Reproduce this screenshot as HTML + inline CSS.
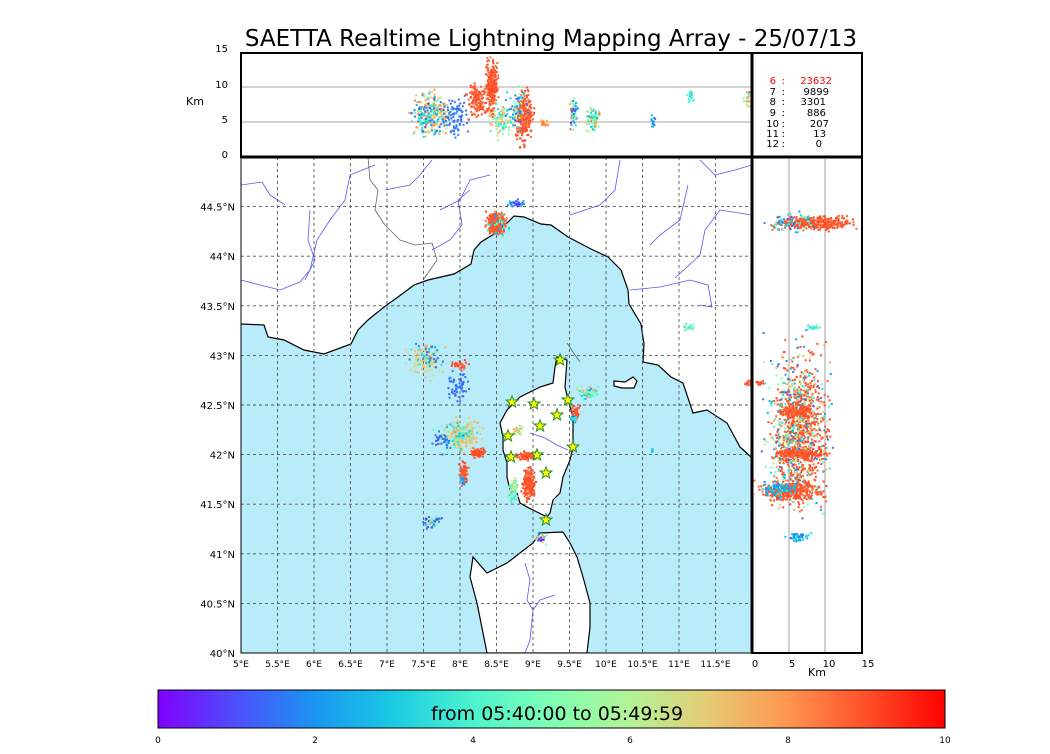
<!DOCTYPE html>
<html><head><meta charset="utf-8"><style>
body{margin:0;background:#fff;width:1050px;height:750px;overflow:hidden;font-family:"DejaVu Sans",sans-serif}
</style></head><body>
<svg id="s" width="1050" height="750" xmlns="http://www.w3.org/2000/svg" font-family="DejaVu Sans, sans-serif">
<defs>
<linearGradient id="cb" x1="0" x2="1" y1="0" y2="0">
<stop offset="0" stop-color="#8000ff"/><stop offset="0.1" stop-color="#4d4ffc"/><stop offset="0.2" stop-color="#1a96f2"/><stop offset="0.3" stop-color="#1acbe3"/><stop offset="0.4" stop-color="#4df3ce"/><stop offset="0.5" stop-color="#80ffb4"/><stop offset="0.6" stop-color="#b3f396"/><stop offset="0.7" stop-color="#e6cb74"/><stop offset="0.8" stop-color="#ff964f"/><stop offset="0.9" stop-color="#ff4f28"/><stop offset="1" stop-color="#ff0000"/>
</linearGradient>
<clipPath id="cm"><rect x="241" y="157" width="511" height="496"/></clipPath>
<clipPath id="ct"><rect x="241" y="53" width="511" height="104"/></clipPath>
<clipPath id="cr"><rect x="752" y="157" width="110" height="496"/></clipPath>
</defs>
<text x="551" y="46" font-size="23" text-anchor="middle">SAETTA Realtime Lightning Mapping Array - 25/07/13</text>
<g clip-path="url(#cm)">
<polygon fill="#b8ecfa" points="241,324 264,325 268,337 284,340 304,350 324,354 351,344 358,330 368,320 384,307 398,297 414,285 428,280 454,274 471,264 474,250 481,242 494,234 508,222 514,216 524,217 541,224 551,225 568,237 591,249 608,257 621,270 628,290 629,304 641,324 644,344 643,362 658,365 671,377 683,383 693,413 707,410 727,423 740,447 752,458 752,653 241,653"/>
<polyline fill="none" stroke="#000" stroke-width="1.2" points="241,324 264,325 268,337 284,340 304,350 324,354 351,344 358,330 368,320 384,307 398,297 414,285 428,280 454,274 471,264 474,250 481,242 494,234 508,222 514,216 524,217 541,224 551,225 568,237 591,249 608,257 621,270 628,290 629,304 641,324 644,344 643,362 658,365 671,377 683,383 693,413 707,410 727,423 740,447 752,458"/>
<polygon fill="#fff" stroke="#000" stroke-width="1.2" points="557,357 567,360 565,387 568,400 573,417 573,447 570,460 563,477 560,493 553,500 550,513 547,517 533,510 527,507 520,503 517,493 510,490 507,477 507,463 503,450 503,437 500,423 507,410 520,397 540,387 553,383 555,367"/>
<polygon fill="#fff" stroke="#000" stroke-width="1.2" points="540,533 563,532 570,543 577,557 583,577 590,603 590,627 587,653 487,653 483,633 477,603 470,577 473,557 487,573 507,563 520,553 533,543"/>
<polygon fill="#fff" stroke="#000" stroke-width="1.2" points="614,381 625,382 633,377 637,381 634,388 622,388 614,386"/>
<g fill="none" stroke="#5555ff" stroke-width="0.8">
<polyline points="241,185 262,182 270,195 285,205"/>
<polyline points="241,280 260,285 280,290 300,282 310,270 317,240 330,220 345,200 350,175 375,165"/>
<polyline points="310,210 308,240 315,260 305,280"/>
<polyline points="385,190 410,185 420,175 432,160"/>
<polyline points="440,210 460,200 470,180 490,175"/>
<polyline points="432,250 450,240 462,225 458,200 470,190"/>
<polyline points="570,215 600,205 615,190 620,160"/>
<polyline points="650,245 660,235 680,220 688,185"/>
<polyline points="700,160 715,175 735,170 752,165"/>
<polyline points="675,278 700,255 705,230 720,210 752,215"/>
<polyline points="630,290 660,287 690,280 708,285 712,307 700,305"/>
<polyline points="530,433 545,438 557,445 568,450"/>
<polyline points="525,563 530,580 527,600 533,610 540,600 555,595"/>
<polyline points="533,610 530,640 525,653"/>
</g>
<g fill="none" stroke="#666" stroke-width="0.8">
<polyline points="368,157 370,180 378,190 375,210 385,225 400,240 415,245 432,243 437,260 430,270 423,280"/>
<polyline points="567,343 575,355 580,362"/>
</g>
<g stroke="#555" stroke-width="0.9" stroke-dasharray="3,3" id="grid"></g>
</g>
<g id="dm" clip-path="url(#cm)"></g>
<rect x="241" y="157" width="511" height="496" fill="none" stroke="#000" stroke-width="1"/>
<line x1="241" x2="752" y1="122" y2="122" stroke="#888" stroke-width="0.8"/>
<line x1="241" x2="752" y1="87" y2="87" stroke="#888" stroke-width="0.8"/>
<g id="dt" clip-path="url(#ct)"></g>
<rect x="241" y="53" width="621" height="104" fill="none" stroke="#000" stroke-width="2"/>
<line x1="752" x2="752" y1="53" y2="653" stroke="#000" stroke-width="3"/>
<line x1="241" x2="862" y1="157" y2="157" stroke="#000" stroke-width="3"/>
<line x1="789" x2="789" y1="157" y2="653" stroke="#888" stroke-width="0.8"/>
<line x1="825" x2="825" y1="157" y2="653" stroke="#888" stroke-width="0.8"/>
<g id="dr" clip-path="url(#cr)"></g>
<rect x="752" y="157" width="110" height="496" fill="none" stroke="#000" stroke-width="2"/>
<g id="stars"></g>
<g font-size="10" text-anchor="end">
<text x="776" y="84" fill="#ff0000">6</text><text x="785" y="84" fill="#ff0000">:</text><text x="832" y="84" fill="#ff0000">23632</text>
<text x="776" y="95">7</text><text x="785" y="95">:</text><text x="829" y="95">9899</text>
<text x="776" y="105">8</text><text x="785" y="105">:</text><text x="826" y="105">3301</text>
<text x="776" y="116">9</text><text x="785" y="116">:</text><text x="826" y="116">886</text>
<text x="779" y="127">10</text><text x="785" y="127">:</text><text x="829" y="127">207</text>
<text x="779" y="137">11</text><text x="785" y="137">:</text><text x="826" y="137">13</text>
<text x="779" y="147">12</text><text x="785" y="147">:</text><text x="822" y="147">0</text>
</g>
<g font-size="10" id="labels"></g>
<text x="195" y="105" font-size="11" text-anchor="middle">Km</text>
<text x="817" y="676" font-size="11" text-anchor="middle">Km</text>
<rect x="158" y="690" width="787" height="38" fill="url(#cb)" stroke="#000" stroke-width="1"/>
<text x="557" y="720" font-size="19" text-anchor="middle">from 05:40:00 to 05:49:59</text>
<g font-size="9" text-anchor="middle">
<text x="158" y="743">0</text><text x="315" y="743">2</text><text x="473" y="743">4</text><text x="630" y="743">6</text><text x="788" y="743">8</text><text x="945" y="743">10</text>
</g>
</svg>
<script>
var NS="http://www.w3.org/2000/svg";
function el(p,t,a,txt){var e=document.createElementNS(NS,t);for(var k in a)e.setAttribute(k,a[k]);if(txt!=null)e.textContent=txt;p.appendChild(e);return e;}
var g=document.getElementById('grid');
for(var i=1;i<14;i++){var x=241+i*36.5;el(g,'line',{x1:x,x2:x,y1:157,y2:653});}
for(var j=1;j<10;j++){var y=653-j*49.6;el(g,'line',{x1:241,x2:752,y1:y,y2:y});}
var L=document.getElementById('labels');
var lats=['40°N','40.5°N','41°N','41.5°N','42°N','42.5°N','43°N','43.5°N','44°N','44.5°N'];
for(var j=0;j<10;j++)el(L,'text',{x:235,y:657-j*49.6,'text-anchor':'end'},lats[j]);
var lons=['5°E','5.5°E','6°E','6.5°E','7°E','7.5°E','8°E','8.5°E','9°E','9.5°E','10°E','10.5°E','11°E','11.5°E'];
for(var i=0;i<14;i++)el(L,'text',{x:241+i*36.5,y:667,'text-anchor':'middle','font-size':9},lons[i]);
[['0',755],['5',792],['10',829],['15',868]].forEach(function(a){el(L,'text',{x:a[1],y:667,'text-anchor':'middle','font-size':10},a[0]);});
[['15',52],['10',88],['5',123],['0',158]].forEach(function(a){el(L,'text',{x:228,y:a[1],'text-anchor':'end'},a[0]);});
var seed=7;function r(){seed=(seed*16807)%2147483647;return seed/2147483647;}
function gs(){return (r()+r()+r()-1.5)/1.5;}
function col(t){var R=Math.min(1,Math.abs(2*t-0.5)),G=Math.sin(Math.PI*t),B=Math.cos(Math.PI*t/2);return 'rgb('+Math.round(R*255)+','+Math.round(G*255)+','+Math.round(B*255)+')';}
function cl(id,cx,cy,rx,ry,n,tmin,tmax){var p=document.getElementById(id);var s='';
for(var k=0;k<n;k++){var x=cx+gs()*rx*1.2,y=cy+gs()*ry*1.2;var t=tmin+r()*(tmax-tmin);
s+='<rect x="'+x.toFixed(1)+'" y="'+y.toFixed(1)+'" width="2" height="2" fill="'+col(t)+'"/>';}
p.insertAdjacentHTML('beforeend',s);}
cl('dm',495,222,10,11,300,0.86,0.92);cl('dm',498,225,14,14,30,0.2,0.5);cl('dm',515,202,10,4,30,0.0,0.3);
cl('dm',425,360,20,18,100,0.6,0.8);cl('dm',425,355,18,15,40,0.1,0.4);cl('dm',458,385,12,20,60,0.12,0.16);cl('dm',458,365,10,6,30,0.85,0.95);
cl('dm',460,435,22,18,160,0.6,0.8);cl('dm',455,435,22,18,70,0.25,0.5);cl('dm',440,440,14,14,30,0.12,0.16);
cl('dm',477,452,8,6,80,0.88,0.92);cl('dm',463,472,5,12,80,0.86,0.92);cl('dm',462,480,4,6,20,0.1,0.3);
cl('dm',525,455,10,5,90,0.86,0.92);cl('dm',528,483,7,17,220,0.86,0.92);cl('dm',512,488,6,14,70,0.3,0.7);cl('dm',517,430,5,6,30,0.5,0.8);
cl('dm',587,392,12,8,60,0.2,0.8);cl('dm',575,412,4,8,40,0.86,0.92);cl('dm',573,418,4,6,20,0.2,0.4);
cl('dm',433,521,12,8,50,0.0,0.8);cl('dm',540,538,6,7,30,0.0,0.9);
cl('dm',688,326,6,4,20,0.3,0.5);cl('dm',747,382,5,4,15,0.86,0.92);cl('dm',651,450,2,2,4,0.2,0.3);
cl('dt',432,112,22,25,200,0.6,0.85);cl('dt',430,115,24,22,120,0.1,0.45);cl('dt',455,115,14,22,80,0.12,0.18);
cl('dt',476,98,10,18,130,0.86,0.92);cl('dt',491,85,7,30,250,0.86,0.92);cl('dt',500,120,15,18,90,0.3,0.8);
cl('dt',523,115,10,30,250,0.86,0.92);cl('dt',515,110,12,25,70,0.1,0.6);cl('dt',544,122,5,4,20,0.7,0.9);
cl('dt',573,113,4,18,60,0.0,0.9);cl('dt',592,117,8,16,80,0.2,0.9);
cl('dt',652,118,2,13,15,0.1,0.3);cl('dt',690,96,5,6,20,0.3,0.5);cl('dt',747,98,5,10,25,0.4,0.9);
cl('dr',815,222,45,8,350,0.86,0.92);cl('dr',790,222,30,10,60,0.1,0.5);
cl('dr',800,432,30,85,700,0.86,0.92);cl('dr',795,430,35,90,450,0.1,0.8);
cl('dr',790,490,38,12,300,0.86,0.92);cl('dr',778,488,22,10,80,0.15,0.35);
cl('dr',800,453,30,6,250,0.86,0.92);cl('dr',795,410,20,8,150,0.86,0.92);
cl('dr',798,536,12,5,50,0.1,0.4);cl('dr',812,326,8,3,20,0.3,0.5);cl('dr',760,382,6,3,15,0.86,0.92);
var st=document.getElementById('stars');
[[560,360],[512,402],[534,404],[568,400],[557,415],[540,426],[508,436],[573,447],[537,455],[511,457],[546,473],[546,520]].forEach(function(c){
var pts=[];for(var k=0;k<10;k++){var ang=-Math.PI/2+k*Math.PI/5,rr=k%2?2.6:6.2;pts.push((c[0]+rr*Math.cos(ang)).toFixed(1)+','+(c[1]+rr*Math.sin(ang)).toFixed(1));}
el(st,'polygon',{points:pts.join(' '),fill:'#ffff00',stroke:'#228b22','stroke-width':1});});
</script>
</body></html>
